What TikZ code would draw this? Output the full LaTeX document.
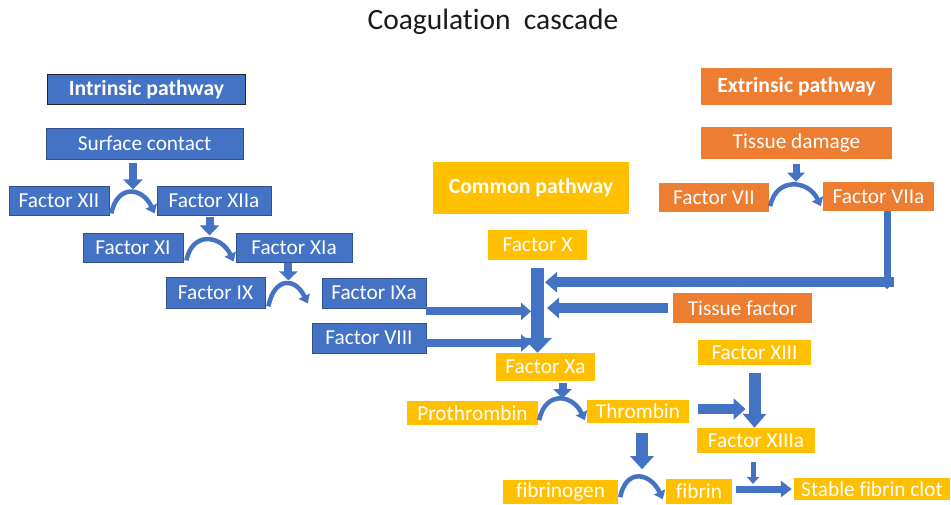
\documentclass[tikz,border=0pt]{standalone}
\usepackage{fontspec}
\setmainfont{Carlito}[Ligatures=NoCommon]
\usetikzlibrary{arrows.meta,calc}
\definecolor{bl}{HTML}{4472C4}
\definecolor{bld}{HTML}{2F528F}
\definecolor{og}{HTML}{ED7D31}
\definecolor{gd}{HTML}{FFC000}
\definecolor{ttl}{HTML}{1A1A1A}
\begin{document}
\begin{tikzpicture}[x=1pt,y=-1pt,
  box/.style={inner sep=0pt, text=white, font=\fontsize{21.3}{25}\selectfont},
  bbox/.style={box, fill=bl, draw=bld, line width=0.8pt},
  obox/.style={box, fill=og},
  gbox/.style={box, fill=gd},
  hdr/.style={font=\fontsize{21.7}{26}\selectfont\bfseries},
  arw/.style n args={3}{draw=bl, line width=#1, -{Triangle[width=#2, length=#3]}},
  curv/.style={draw=bl, line width=4.5pt, -{Triangle[width=12pt, length=8pt]},
    to path={.. controls ($(\tikztostart)+(6,-30)$) and ($(\tikztotarget)+(-12,-26)$) .. (\tikztotarget)}}
]
\useasboundingbox (0,0) rectangle (951,504);

% title
\node[font=\fontsize{29.5}{33}\selectfont, text=ttl, inner sep=0pt] (title) at (493,22) {Coagulation\ \ cascade};

% intrinsic
\node[bbox, hdr, draw=black!85, line width=1.5pt, minimum width=198, minimum height=30] (intr) at (146.5,89.5) {Intrinsic pathway};
\node[bbox, minimum width=197, minimum height=31] (surf) at (144.5,143.5) {Surface contact};
\node[bbox, minimum width=100, minimum height=29] (f12) at (59,200.5) {Factor XII};
\node[bbox, minimum width=114, minimum height=29] (f12a) at (214,200.5) {Factor XIIa};
\node[bbox, minimum width=100, minimum height=29] (f11) at (133,247.5) {Factor XI};
\node[bbox, minimum width=116, minimum height=29] (f11a) at (294,247.5) {Factor XIa};
\node[bbox, minimum width=99, minimum height=31] (f9) at (215.5,292.5) {Factor IX};
\node[bbox, minimum width=104, minimum height=30] (f9a) at (374,293) {Factor IXa};
\node[bbox, minimum width=114, minimum height=30] (f8) at (369,338) {Factor VIII};

% common
\node[gbox, hdr, minimum width=196, minimum height=52] (comm) at (531,188) {Common pathway};
\node[gbox, minimum width=99, minimum height=30] (fX) at (537.5,245) {Factor X};
\node[gbox, minimum width=99, minimum height=28] (fXa) at (545.5,367) {Factor Xa};
\node[gbox, minimum width=131, minimum height=24] (proth) at (472.5,413) {Prothrombin};
\node[gbox, minimum width=102, minimum height=23] (thr) at (638,411.5) {Thrombin};
\node[gbox, minimum width=113, minimum height=25] (f13) at (754.5,352.5) {Factor XIII};
\node[gbox, minimum width=118, minimum height=25] (f13a) at (756,440.5) {Factor XIIIa};
\node[gbox, minimum width=115, minimum height=24] (fbg) at (560.5,492) {fibrinogen};
\node[gbox, minimum width=66, minimum height=25] (fbn) at (699,491.5) {fibrin};
\node[gbox, minimum width=156, minimum height=22] (clot) at (872,489) {Stable fibrin clot};

% extrinsic
\node[obox, hdr, minimum width=191, minimum height=37] (extr) at (796.5,86.5) {Extrinsic pathway};
\node[obox, minimum width=191, minimum height=32] (tdam) at (796.5,143) {Tissue damage};
\node[obox, minimum width=110, minimum height=29] (f7) at (714,197.5) {Factor VII};
\node[obox, minimum width=111, minimum height=29] (f7a) at (878.5,196.5) {Factor VIIa};
\node[obox, minimum width=139, minimum height=30] (tf) at (742.5,308) {Tissue factor};

% curved conversion arrows
\draw[curv] ($(f12.south east)+(2,-2)$) to ($(f12a.south west)+(-2,-2)$);
\draw[curv] ($(f11.south east)+(3,-2)$) to ($(f11a.south west)+(-2,-1)$);
\draw[curv] ($(f9.south east)+(3,-2)$) to ($(f9a.south west)+(-14,-5)$);
\draw[curv] ($(f7.south east)+(1,-6)$) to ($(f7a.south west)+(-2,-5)$);
\draw[curv] ($(proth.south east)+(1,-5)$) to ($(thr.south west)+(-2,-3)$);
\draw[curv] ($(fbg.south east)+(2,-7)$) to ($(fbn.south west)+(-3,-5)$);

% arc peaks
\coordinate (p1) at ($(f12.south east)!0.5!(f12a.south west)+(0,-23)$);
\coordinate (p2) at ($(f11.south east)!0.5!(f11a.south west)+(0,-24)$);
\coordinate (p3) at ($(f9.south east)+(23,-27)$);
\coordinate (p4) at ($(f7.south east)!0.5!(f7a.south west)+(0,-25)$);
\coordinate (p5) at ($(proth.south east)!0.5!(thr.south west)+(0,-24)$);
\coordinate (p6) at ($(fbg.south east)!0.5!(fbn.south west)+(0,-28)$);

% enzyme arrows onto the arcs
\draw[arw={8pt}{19pt}{10pt}, shorten <=4pt, shorten >=3pt] (p1 |- surf.south) -- (p1);
\draw[arw={8pt}{19pt}{10pt}, shorten <=2pt, shorten >=3pt] (p2 |- f12a.south) -- (p2);
\draw[arw={8pt}{18pt}{9pt}, shorten <=1pt, shorten >=1pt] (p3 |- f11a.south) -- (p3);
\draw[arw={7pt}{17pt}{9pt}, shorten <=5pt, shorten >=5pt] (p4 |- tdam.south) -- (p4);
\draw[arw={8pt}{18pt}{9pt}, shorten <=2pt, shorten >=2pt] (p5 |- fXa.south) -- (p5);
\draw[arw={12pt}{23pt}{13pt}, shorten <=10pt, shorten >=7pt] (p6 |- thr.south) -- (p6);

% main Factor X -> Factor Xa
\coordinate (ml) at ($(fX.south)+(-6.5,0)$);
\coordinate (mr) at ($(fX.south)+(7.5,0)$);
\draw[arw={13pt}{28pt}{15pt}] ($(fX.south)+(0,8)$) -- (fX.south |- fXa.north);

% inputs from the left
\coordinate (s9) at ($(f9a.south east)+(0,3)$);
\draw[arw={8pt}{17pt}{10pt}] (s9) -- (s9 -| ml);
\coordinate (s8) at ($(f8.east)+(0,5)$);
\draw[arw={8pt}{17pt}{10pt}] (s8) -- (s8 -| ml);

% inputs from the right
\coordinate (v7) at ($(f7a.south)+(8.5,0)$);
\draw[arw={7pt}{10pt}{5pt}] (v7) -- ++(0,78);
\coordinate (h7) at ($(v7)+(7,71)$);
\draw[arw={10pt}{20pt}{12pt}] (h7) -- (h7 -| mr);
\coordinate (st) at ($(tf.west)+(-5,0)$);
\draw[arw={10pt}{20pt}{12pt}, shorten >=2pt] (st) -- (st -| mr);

% Factor XIII branch
\coordinate (th) at ($(thr.east)+(9,-2.5)$);
\draw[arw={10pt}{21pt}{12pt}, shorten >=9pt] (th) -- (th -| f13.south);
\draw[arw={12pt}{23pt}{14pt}] ($(f13.south)+(0,8)$) -- (f13.south |- f13a.north);
\coordinate (fc) at ($(fbn.east)+(4,-2.5)$);
\draw[arw={7pt}{16pt}{11pt}, shorten >=2pt] (fc) -- (fc -| clot.west);
\coordinate (x13) at ($(f13a.south)+(-3,9)$);
\draw[arw={5pt}{12pt}{7pt}, shorten >=5pt] (x13) -- (x13 |- fc);
\end{tikzpicture}
\end{document}
